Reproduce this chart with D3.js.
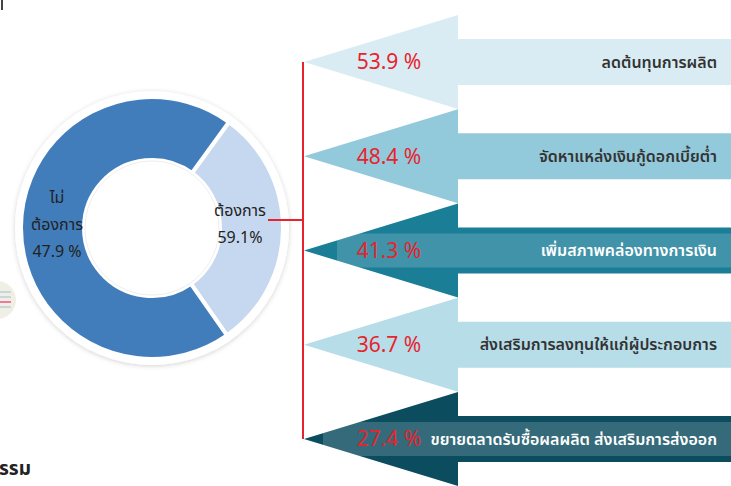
<!DOCTYPE html>
<html>
<head>
<meta charset="utf-8">
<script src="https://cdn.jsdelivr.net/npm/d3@7"></script>
<style>
  body { margin: 0; background: #fff; }
  svg { display: block; font-family: Tahoma, "Noto Sans Thai", "Leelawadee UI", sans-serif; }
</style>
</head>
<body>
<div id="chart"></div>
<script>
/* donut + arrow infographic */

const donutLabels = ["ต้องการ", "ไม่ต้องการ"];
const donutText = [["ต้องการ", "59.1%"], ["ไม่", "ต้องการ", "47.9 %"]];
const donutShare = [30.3, 69.7];

// arrows: measures and their percentages
const measures = [
  "ลดต้นทุนการผลิต",
  "จัดหาแหล่งเงินกู้ดอกเบี้ยต่ำ",
  "เพิ่มสภาพคล่องทางการเงิน",
  "ส่งเสริมการลงทุนให้แก่ผู้ประกอบการ",
  "ขยายตลาดรับซื้อผลผลิต ส่งเสริมการส่งออก"
];
const percents = [53.9, 48.4, 41.3, 36.7, 27.4];

const width = 731, height = 486;

const svg = d3.select("#chart")
  .append("svg")
  .attr("width", width)
  .attr("height", height)
  .attr("viewBox", [0, 0, width, height]);

const defs = svg.append("defs");
defs.append("filter")
    .attr("id", "shadow")
    .attr("x", "-20%").attr("y", "-20%").attr("width", "140%").attr("height", "140%")
  .append("feDropShadow")
    .attr("dx", 0).attr("dy", 1)
    .attr("stdDeviation", 2.5)
    .attr("flood-color", "#000")
    .attr("flood-opacity", 0.18);

// ---------- donut ----------
const cx = 152, cy = 228, rOuter = 131, rInner = 68;

const pie = d3.pie()
  .sort(null)
  .value(d => d)
  .startAngle(36 * Math.PI / 180)
  .endAngle(396 * Math.PI / 180);

const arc = d3.arc().innerRadius(rInner).outerRadius(rOuter);

const donut = svg.append("g").attr("transform", `translate(${cx},${cy})`);

donut.append("circle")
  .attr("r", rOuter + 6)
  .attr("fill", "#fff")
  .attr("filter", "url(#shadow)");

const sliceColor = d3.scaleOrdinal().domain(donutLabels).range(["#c6d8ef", "#417dbb"]);

donut.selectAll("path.slice")
  .data(pie(donutShare))
  .join("path")
    .attr("class", "slice")
    .attr("d", arc)
    .attr("fill", (d, i) => sliceColor(donutLabels[i]))
    .attr("stroke", "#fff")
    .attr("stroke-width", 4);

donut.append("circle")
  .attr("r", rInner - 1)
  .attr("fill", "#fff")
  .attr("stroke", "#eee")
  .attr("stroke-width", 1);

// slice labels
const labelPos = [[88, -12], [-95, -25]];
donut.selectAll("text.slice-label")
  .data(donutText)
  .join("text")
    .attr("class", "slice-label")
    .attr("x", (d, i) => labelPos[i][0])
    .attr("y", (d, i) => labelPos[i][1])
    .attr("text-anchor", "middle")
    .attr("font-size", 16)
    .attr("fill", "#222")
    .selectAll("tspan")
    .data(d => d)
    .join("tspan")
      .attr("x", function () { return this.parentNode.getAttribute("x"); })
      .attr("dy", (d, j) => j === 0 ? 0 : 27)
      .text(d => d);

// ---------- arrows ----------
const y = d3.scalePoint()
  .domain(measures)
  .range([62, 439]);

const arrowColor = d3.scaleOrdinal()
  .domain(measures)
  .range(["#daecf3", "#93cadb", "#1a7e97", "#b6dde8", "#0b4c5f"]);
const textColor = d3.scaleOrdinal()
  .domain(measures)
  .range(["#333", "#333", "#fff", "#333", "#fff"]);

const x0 = 304, xh = 458, x1 = width + 2, headH = 47, shaftH = 23;

const arrowPath = yc => d3.line()([
  [x0, yc], [xh, yc - headH], [xh, yc - shaftH], [x1, yc - shaftH],
  [x1, yc + shaftH], [xh, yc + shaftH], [xh, yc + headH]
]) + "Z";

const arrows = svg.append("g")
  .selectAll("g")
  .data(measures)
  .join("g");

arrows.append("path")
  .attr("d", d => arrowPath(y(d)))
  .attr("fill", d => arrowColor(d));

// lighter text box on the dark arrows
arrows.filter((d, i) => i === 2 || i === 4)
  .append("rect")
    .attr("x", (d, i) => i === 0 ? 337 : 323)
    .attr("y", d => y(d) - 17)
    .attr("width", d => width - 323)
    .attr("height", 34)
    .attr("fill", "#fff")
    .attr("opacity", 0.17);

// red connector
svg.append("path")
  .attr("d", d3.line()([[268, 220], [x0 - 1, 220]]))
  .attr("stroke", "#e8232d")
  .attr("stroke-width", 2)
  .attr("fill", "none");
svg.append("line")
  .attr("x1", x0 - 1).attr("x2", x0 - 1)
  .attr("y1", y(measures[0])).attr("y2", y(measures[measures.length - 1]))
  .attr("stroke", "#e8232d")
  .attr("stroke-width", 2);

arrows.append("text")
  .attr("x", 389)
  .attr("y", d => y(d))
  .attr("dy", "0.35em")
  .attr("text-anchor", "middle")
  .attr("font-size", 21)
  .attr("fill", "#e8232d")
  .text((d, i) => d3.format(".1f")(percents[i]) + " %");

arrows.append("text")
  .attr("x", 717)
  .attr("y", d => y(d))
  .attr("dy", "0.35em")
  .attr("text-anchor", "end")
  .attr("font-size", 16)
  .attr("font-weight", 600)
  .attr("fill", d => textColor(d))
  .text(d => d);

// ---------- cropped bits from the page ----------
svg.append("line")
  .attr("x1", 2).attr("x2", 2).attr("y1", 0).attr("y2", 10)
  .attr("stroke", "#444").attr("stroke-width", 2);

const icon = svg.append("g").attr("transform", "translate(-3,300)");
icon.append("circle").attr("r", 19).attr("fill", "#efefe6");
icon.selectAll("line")
  .data([-8, -3, 2, 7])
  .join("line")
    .attr("x1", 0).attr("x2", 14)
    .attr("y1", d => d).attr("y2", d => d)
    .attr("stroke", (d, i) => i === 2 ? "#f07a9a" : "#c8d6dc")
    .attr("stroke-width", 2);

svg.append("text")
  .attr("x", -1)
  .attr("y", 475)
  .attr("font-size", 19)
  .attr("font-weight", 700)
  .attr("fill", "#222")
  .text("รรม");
</script>
</body>
</html>
